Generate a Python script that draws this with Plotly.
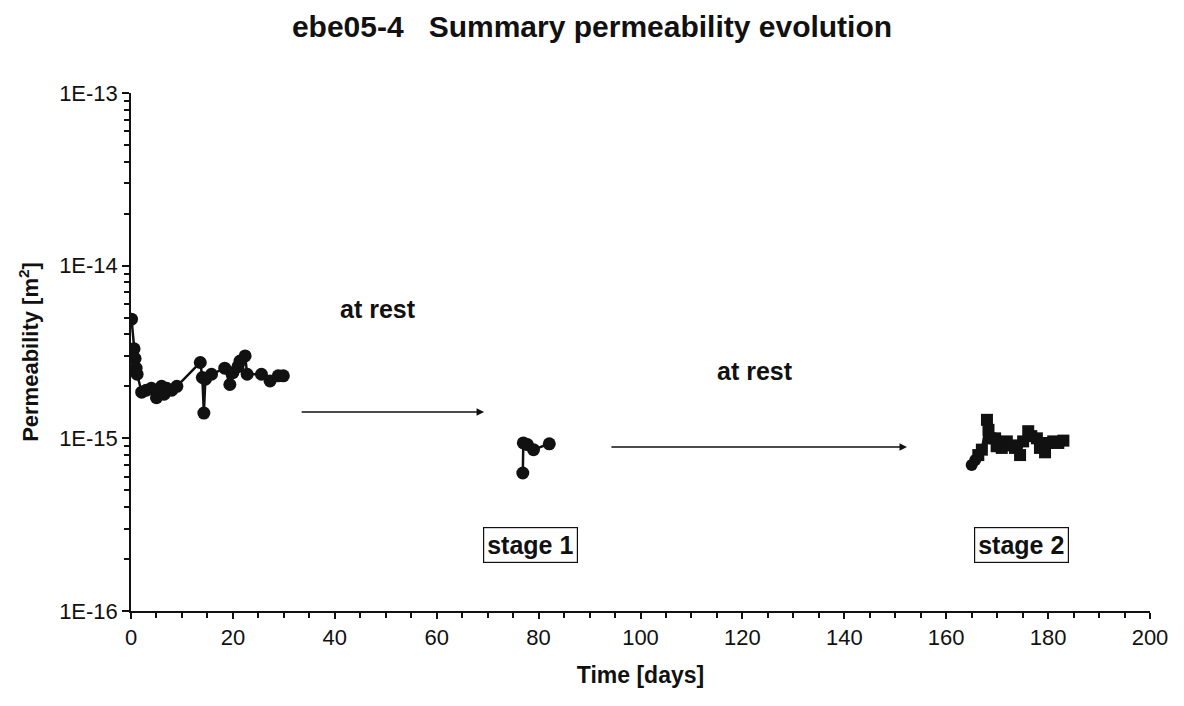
import plotly.graph_objects as go

# ---- data ----
days_a = [0.1, 0.6, 0.8, 1.0, 1.2, 2.1, 3.0, 4.0, 5.0, 5.5, 6.0, 6.5, 7.0, 8.0, 9.0,
          13.6, 14.0, 14.3, 14.6, 15.8, 18.4, 19.4, 20.0, 21.0, 21.4, 22.4, 22.8,
          25.6, 27.3, 28.9, 29.9]
perm_a = [4.9e-15, 3.3e-15, 2.9e-15, 2.55e-15, 2.35e-15, 1.85e-15, 1.9e-15, 1.95e-15,
          1.72e-15, 1.85e-15, 2.0e-15, 1.8e-15, 1.95e-15, 1.9e-15, 2.0e-15,
          2.75e-15, 2.25e-15, 1.4e-15, 2.2e-15, 2.35e-15, 2.55e-15, 2.05e-15, 2.4e-15,
          2.6e-15, 2.8e-15, 3.0e-15, 2.35e-15, 2.35e-15, 2.15e-15, 2.3e-15, 2.3e-15]

days_s1 = [76.9, 77.0, 77.8, 79.0, 82.1]
perm_s1 = [6.3e-16, 9.4e-16, 9.2e-16, 8.6e-16, 9.3e-16]

days_s2 = [165.0, 165.7, 166.3, 167.0, 168.0, 168.3, 168.6, 169.6, 169.9, 170.9, 171.9,
           172.9, 173.5, 174.5, 175.1, 176.1, 176.7, 177.8, 178.4, 179.4, 180.0, 181.0,
           182.0, 183.0]
perm_s2 = [7.0e-16, 7.5e-16, 8.0e-16, 8.6e-16, 1.28e-15, 1.12e-15, 1.0e-15, 1.0e-15,
           9.0e-16, 8.8e-16, 9.6e-16, 9.1e-16, 8.8e-16, 8.0e-16, 9.6e-16, 1.1e-15,
           1.03e-15, 1.0e-15, 8.8e-16, 8.3e-16, 9.4e-16, 9.6e-16, 9.4e-16, 9.7e-16]
sym_s2 = ["circle", "circle"] + ["square"] * (len(days_s2) - 2)

y_tickvals = [1e-16, 1e-15, 1e-14, 1e-13]
y_ticktext = ["1E-16", "1E-15", "1E-14", "1E-13"]
y_minor = [m * 10.0 ** e for e in (-16, -15, -14) for m in range(2, 10)]
x_ticks = list(range(0, 201, 20))

title_text = "ebe05-4\u00a0\u00a0\u00a0Summary permeability evolution"

FONT = "Liberation Sans, Arial, sans-serif"
BLK = "#111111"

fig = go.Figure()
mk = dict(color=BLK, size=13)
fig.add_trace(go.Scatter(x=days_a, y=perm_a, mode="lines+markers",
                         line=dict(color=BLK, width=2.5), marker=dict(symbol="circle", **mk)))
fig.add_trace(go.Scatter(x=days_s1, y=perm_s1, mode="lines+markers",
                         line=dict(color=BLK, width=2.5), marker=dict(symbol="circle", **mk)))
fig.add_trace(go.Scatter(x=days_s2, y=perm_s2, mode="lines+markers",
                         line=dict(color=BLK, width=2.5),
                         marker=dict(symbol=sym_s2, color=BLK, size=12)))

# arrows
fig.add_annotation(x=69.3, y=-14.847, ax=33.2, ay=-14.847, xref="x", yref="y",
                   axref="x", ayref="y", showarrow=True, arrowhead=2, arrowsize=1,
                   arrowwidth=1.5, arrowcolor=BLK, text="")
fig.add_annotation(x=152.3, y=-15.05, ax=94.0, ay=-15.05, xref="x", yref="y",
                   axref="x", ayref="y", showarrow=True, arrowhead=2, arrowsize=1,
                   arrowwidth=1.5, arrowcolor=BLK, text="")

ann_font = dict(family=FONT, size=25, color=BLK)
fig.add_annotation(x=48.5, y=-14.25, xref="x", yref="y", text="<b>at rest</b>",
                   showarrow=False, font=ann_font)
fig.add_annotation(x=122.5, y=-14.61, xref="x", yref="y", text="<b>at rest</b>",
                   showarrow=False, font=ann_font)
fig.add_annotation(x=78.5, y=-15.62, xref="x", yref="y", text="<b>stage 1</b>",
                   showarrow=False, font=ann_font, bordercolor=BLK, borderwidth=1.2,
                   borderpad=3, bgcolor="white")
fig.add_annotation(x=174.7, y=-15.62, xref="x", yref="y", text="<b>stage 2</b>",
                   showarrow=False, font=ann_font, bordercolor=BLK, borderwidth=1.2,
                   borderpad=3, bgcolor="white")

fig.update_layout(
    width=1184, height=706,
    paper_bgcolor="white", plot_bgcolor="white",
    showlegend=False,
    margin=dict(l=131, r=34, t=93, b=95),
    font=dict(family=FONT, size=22, color=BLK),
    title=dict(text="<b>" + title_text + "</b>", x=0.5, xanchor="center",
               y=0.962, yanchor="middle", font=dict(family=FONT, size=30, color=BLK)),
)
fig.update_xaxes(range=[0, 200], tickvals=x_ticks, ticks="outside", ticklen=6,
                 tickwidth=1.5, tickcolor=BLK, showline=True, linecolor=BLK, linewidth=1.5,
                 showgrid=False, zeroline=False,
                 minor=dict(dtick=5, ticks="outside", ticklen=5, tickcolor=BLK, tickwidth=1.5),
                 title=dict(text="<b>Time [days]</b>", standoff=18,
                            font=dict(family=FONT, size=23, color=BLK)))
fig.update_yaxes(type="log", range=[-16, -13], tickmode="array", tickvals=y_tickvals,
                 ticktext=y_ticktext, ticks="outside", ticklen=7, tickwidth=1.5,
                 tickcolor=BLK, showline=True, linecolor=BLK, linewidth=1.5,
                 showgrid=False, zeroline=False,
                 minor=dict(tickmode="array", tickvals=y_minor, ticks="outside", ticklen=5,
                            tickcolor=BLK, tickwidth=1.5),
                 title=dict(text="<b>Permeability [m<sup>2</sup>]</b>", standoff=14,
                            font=dict(family=FONT, size=22, color=BLK)))

fig.write_html("out.html")
